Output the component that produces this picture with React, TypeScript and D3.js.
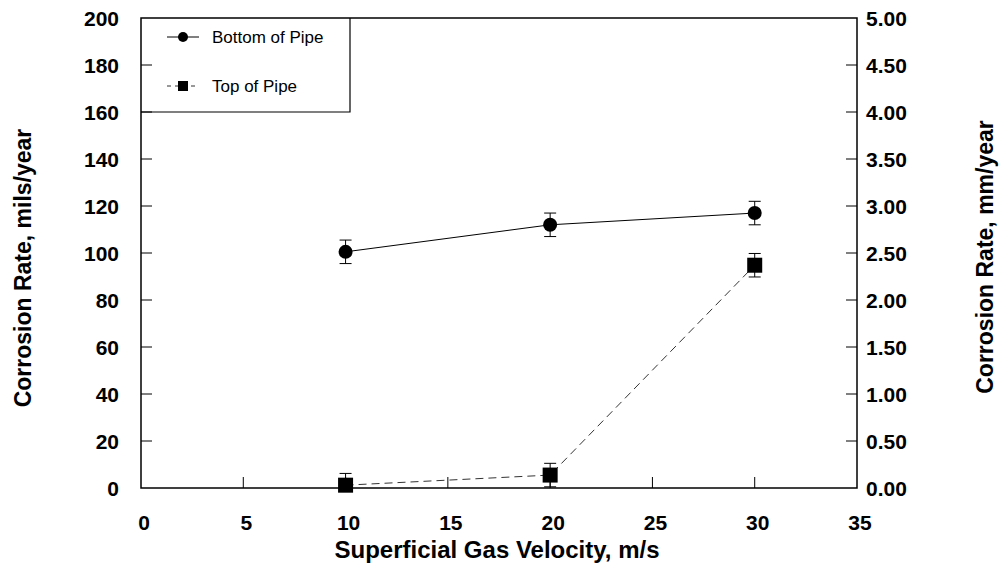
import React from "react";
import * as d3 from "d3";

const velocity = [10, 20, 30];
const bottomOfPipe = [100.5, 112, 117];
const bottomErr = [5, 5, 5];
const topOfPipe = [1.2, 5.5, 94.8];
const topErr = [5, 5, 5];
const xTicks = [0, 5, 10, 15, 20, 25, 30, 35];
const yTicks = [0, 20, 40, 60, 80, 100, 120, 140, 160, 180, 200];
const y2Ticks = [0, 0.5, 1, 1.5, 2, 2.5, 3, 3.5, 4, 4.5, 5];

const W = 1005, H = 583;
const L = 141, R = 857, T = 18, B = 488;

export default function App() {
  const x = d3.scaleLinear().domain([0, 35]).range([L, R]);
  const y = d3.scaleLinear().domain([0, 200]).range([B, T]);
  const y2 = d3.scaleLinear().domain([0, 5]).range([B, T]);
  const line = d3.line<number>().x((_, i) => x(velocity[i])).y((d) => y(d));
  const bold = { fontFamily: "Liberation Sans, Arial, sans-serif", fontWeight: 700 } as const;
  const tickFs = 21;
  return (
    <svg width={W} height={H} style={{ position: "absolute", left: 0, top: 0, background: "#fff" }}>
      <rect x={0} y={0} width={W} height={H} fill="#fff" />
      {/* frame */}
      <rect x={L} y={T} width={R - L} height={B - T} fill="none" stroke="#000" strokeWidth={1.5} />
      {/* y ticks left */}
      {yTicks.map((t) => (
        <g key={"yl" + t}>
          {t > 0 && t < 200 && <line x1={L} x2={L + 11} y1={y(t)} y2={y(t)} stroke="#000" strokeWidth={1} />}
          <text x={119} y={y(t)} dy="0.36em" textAnchor="end" fontSize={tickFs} {...bold}>{t}</text>
        </g>
      ))}
      {/* y ticks right */}
      {y2Ticks.map((t) => (
        <g key={"yr" + t}>
          {t > 0 && t < 5 && <line x1={R - 11} x2={R} y1={y2(t)} y2={y2(t)} stroke="#000" strokeWidth={1} />}
          <text x={866} y={y2(t)} dy="0.36em" textAnchor="start" fontSize={tickFs} {...bold}>{t.toFixed(2)}</text>
        </g>
      ))}
      {/* x ticks */}
      {xTicks.map((t) => (
        <g key={"x" + t}>
          {t > 0 && t < 35 && <line x1={x(t)} x2={x(t)} y1={B} y2={B - 11} stroke="#000" strokeWidth={1} />}
          <text x={x(t) + 3} y={B + 34} dy="0.36em" textAnchor="middle" fontSize={tickFs} {...bold}>{t}</text>
        </g>
      ))}
      {/* axis titles */}
      <text x={497} y={549} dy="0.36em" textAnchor="middle" fontSize={24} {...bold}>Superficial Gas Velocity, m/s</text>
      <text transform={`translate(23,${268}) rotate(-90)`} dy="0.36em" textAnchor="middle" fontSize={23} {...bold}>Corrosion Rate, mils/year</text>
      <text transform={`translate(985,${257}) rotate(-90)`} dy="0.36em" textAnchor="middle" fontSize={23} {...bold}>Corrosion Rate, mm/year</text>

      {/* lines */}
      <path d={line(bottomOfPipe) || ""} fill="none" stroke="#000" strokeWidth={1} />
      <path d={line(topOfPipe) || ""} fill="none" stroke="#333" strokeWidth={1} strokeDasharray="8,5" />

      {/* error bars */}
      {velocity.map((v, i) => (
        <g key={"eb" + i} stroke="#000" strokeWidth={1}>
          <line x1={x(v)} x2={x(v)} y1={y(bottomOfPipe[i] - bottomErr[i])} y2={y(bottomOfPipe[i] + bottomErr[i])} />
          <line x1={x(v) - 6} x2={x(v) + 6} y1={y(bottomOfPipe[i] - bottomErr[i])} y2={y(bottomOfPipe[i] - bottomErr[i])} />
          <line x1={x(v) - 6} x2={x(v) + 6} y1={y(bottomOfPipe[i] + bottomErr[i])} y2={y(bottomOfPipe[i] + bottomErr[i])} />
          <line x1={x(v)} x2={x(v)} y1={y(Math.max(0, topOfPipe[i] - topErr[i]))} y2={y(topOfPipe[i] + topErr[i])} />
          <line x1={x(v) - 6} x2={x(v) + 6} y1={y(Math.max(0, topOfPipe[i] - topErr[i]))} y2={y(Math.max(0, topOfPipe[i] - topErr[i]))} />
          <line x1={x(v) - 6} x2={x(v) + 6} y1={y(topOfPipe[i] + topErr[i])} y2={y(topOfPipe[i] + topErr[i])} />
        </g>
      ))}
      {/* markers */}
      {velocity.map((v, i) => (
        <circle key={"c" + i} cx={x(v)} cy={y(bottomOfPipe[i])} r={7} fill="#000" />
      ))}
      {velocity.map((v, i) => (
        <rect key={"s" + i} x={x(v) - 7.5} y={y(topOfPipe[i]) - 7.5} width={15} height={15} fill="#000" />
      ))}

      {/* legend */}
      <g>
        <path d={`M${L},${y(160)}H350V${T}`} fill="none" stroke="#000" strokeWidth={1.2} />
        <line x1={167} x2={199} y1={37} y2={37} stroke="#000" strokeWidth={1} />
        <circle cx={183} cy={37} r={5} fill="#000" />
        <text x={212} y={37} dy="0.36em" fontSize={17} fontFamily="Liberation Sans, Arial, sans-serif">Bottom of Pipe</text>
        <line x1={167} x2={199} y1={86} y2={86} stroke="#333" strokeWidth={1} strokeDasharray="4,4" />
        <rect x={178} y={81} width={10} height={10} fill="#000" />
        <text x={212} y={86} dy="0.36em" fontSize={17} fontFamily="Liberation Sans, Arial, sans-serif">Top of Pipe</text>
      </g>
    </svg>
  );
}
